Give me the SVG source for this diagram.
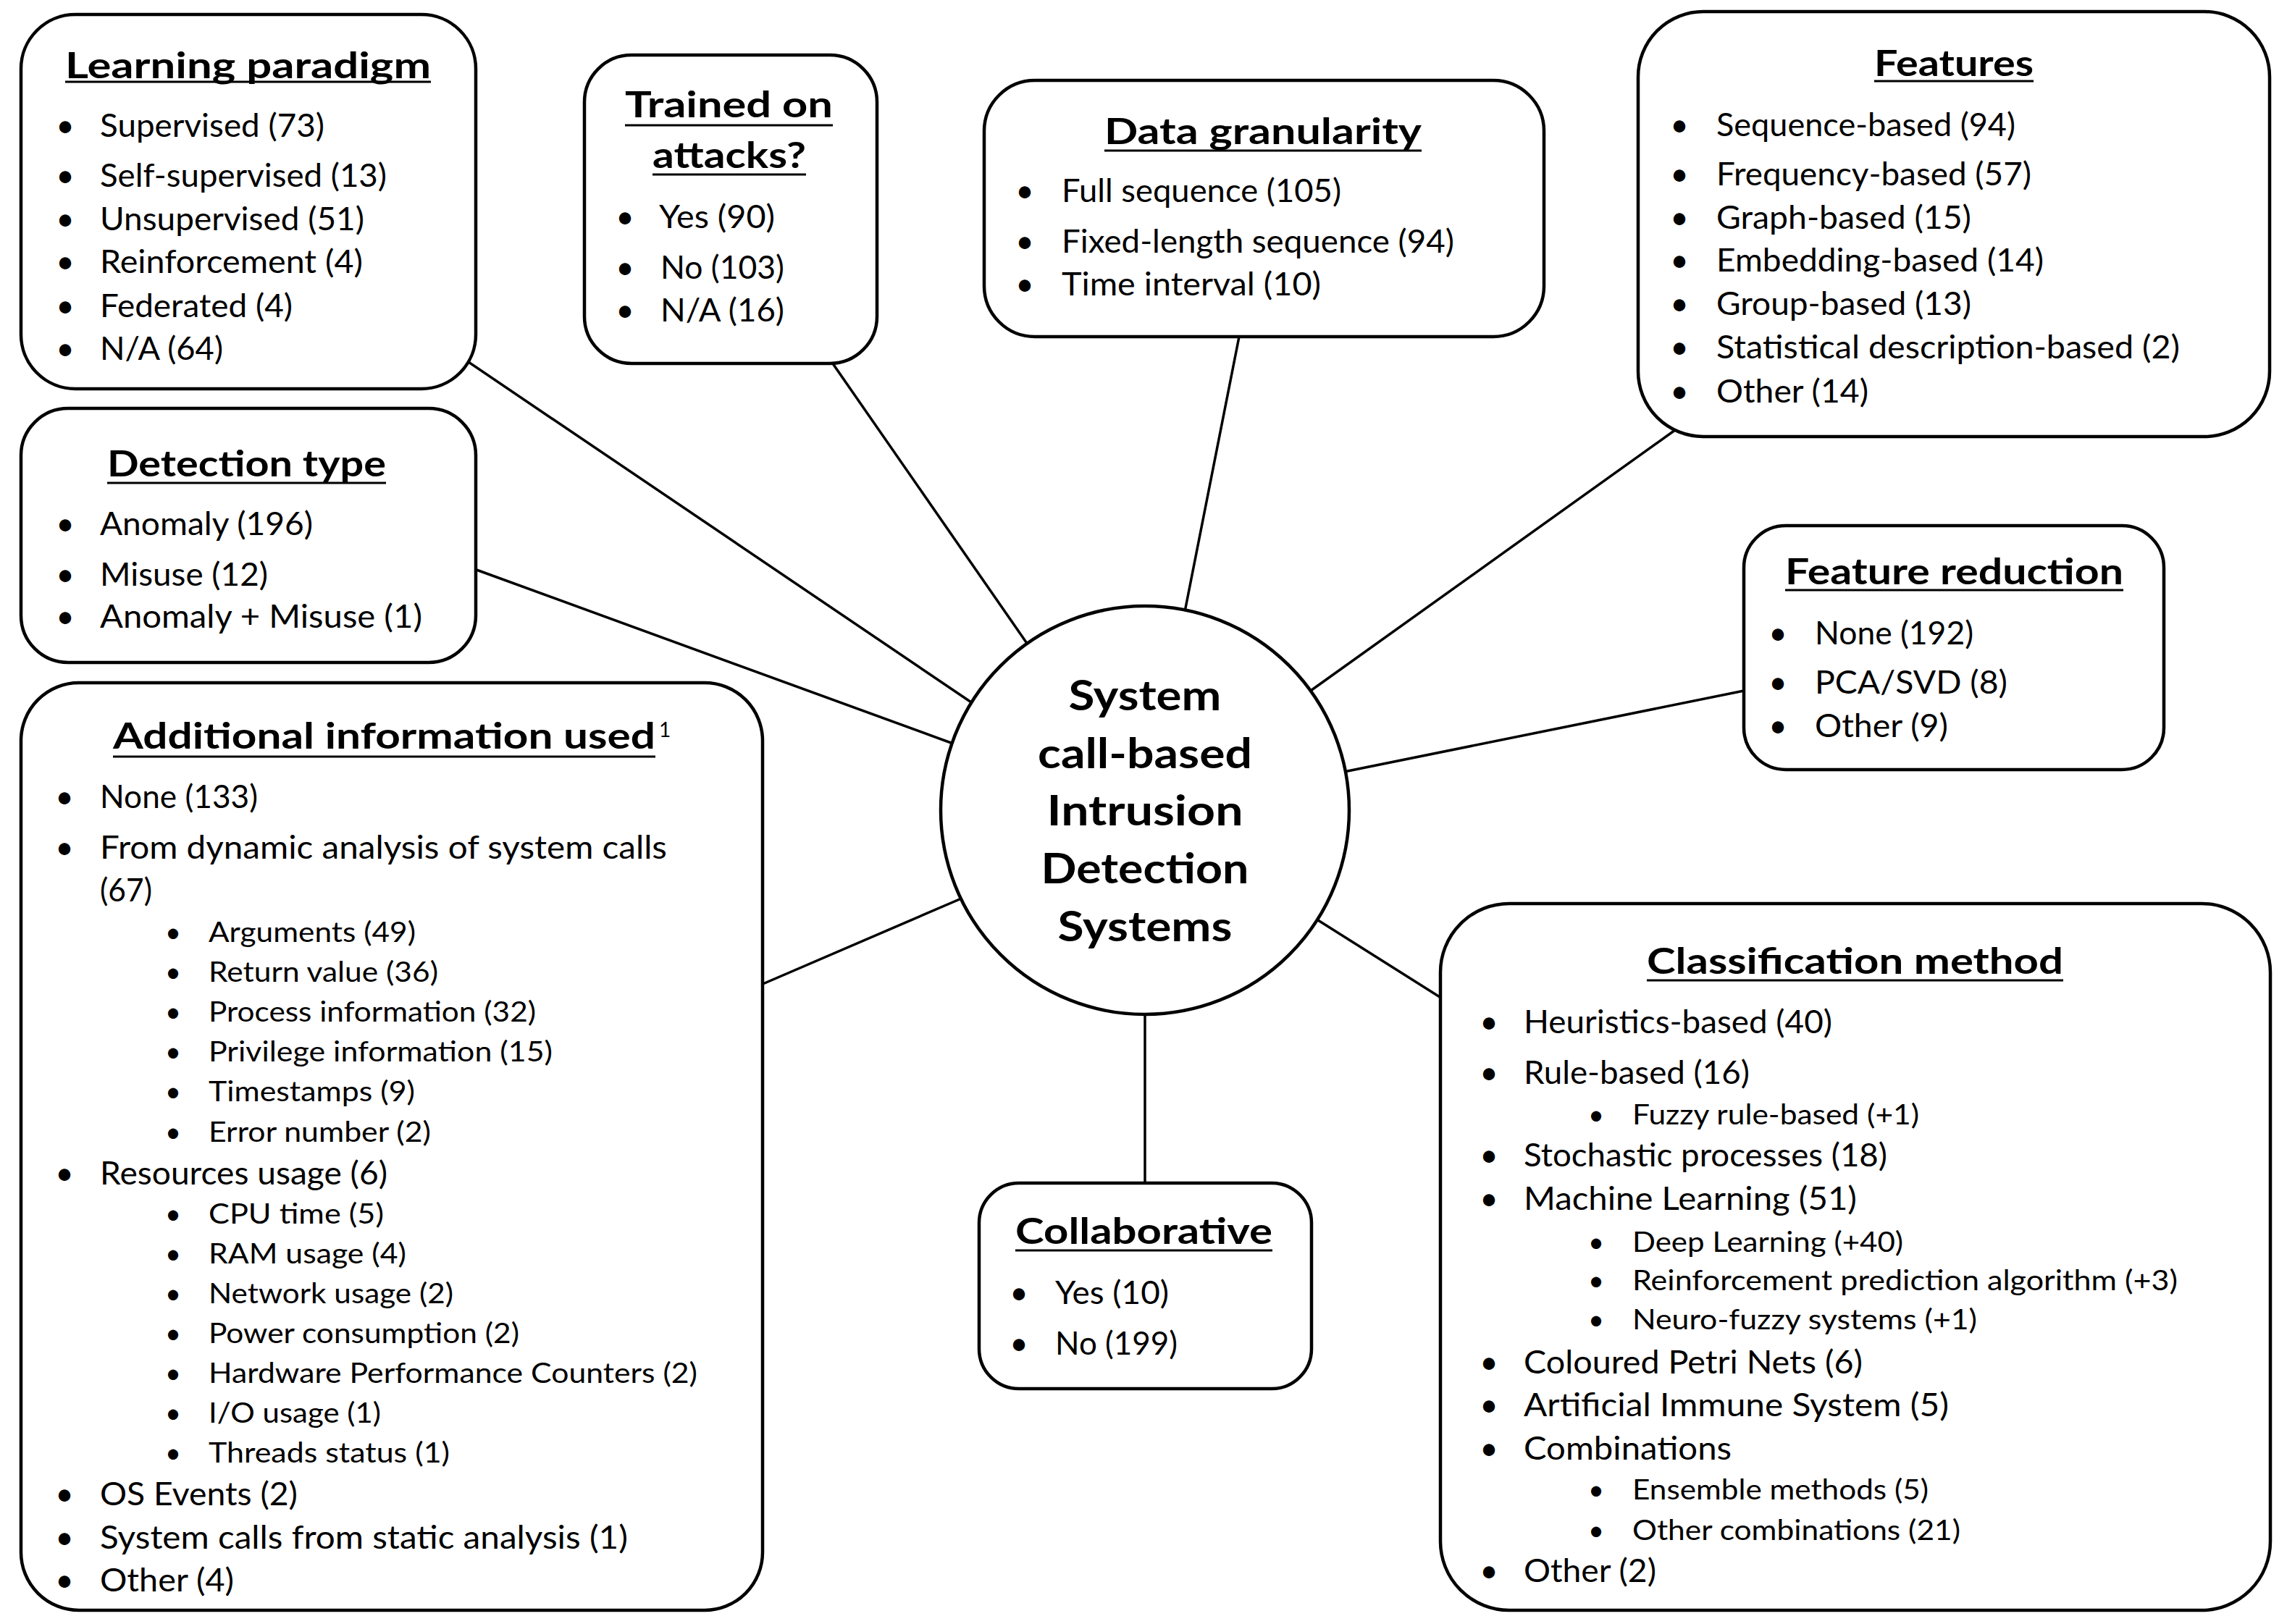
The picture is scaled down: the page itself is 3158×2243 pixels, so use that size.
<svg xmlns="http://www.w3.org/2000/svg" width="3158" height="2243" viewBox="0 0 3158 2243">
<style>
text{font-family:Lato,"Open Sans","Liberation Sans",sans-serif;fill:#000}
.box{fill:#fff;stroke:#000;stroke-width:4.5}
.conn line{stroke:#000;stroke-width:3.5}
.h{font-weight:bold;font-size:50px}
.c{font-weight:bold;font-size:58px;text-anchor:middle}
.b{font-size:44px}
.s{font-size:38px}
.bu{font-size:44px;text-anchor:middle}
.bs{font-size:38px;text-anchor:middle}
.ul{stroke:#000;stroke-width:3}
</style>
<rect width="3158" height="2243" fill="#fff"/>
<g id="connectors" class="conn">
<line x1="641" y1="496" x2="1353" y2="978"/>
<line x1="1145" y1="495" x2="1426" y2="900"/>
<line x1="1713" y1="455" x2="1634" y2="855"/>
<line x1="2313" y1="594" x2="1800" y2="961"/>
<line x1="647" y1="783" x2="1327" y2="1031"/>
<line x1="2418" y1="952" x2="1846" y2="1068"/>
<line x1="1044" y1="1363" x2="1339" y2="1236"/>
<line x1="1996" y1="1382" x2="1809" y2="1264"/>
<line x1="1581" y1="1395" x2="1581" y2="1640"/>
</g>
<g id="center">
<circle class="box" cx="1581" cy="1119" r="282"/>
<text class="c" x="1581" y="981" textLength="211" lengthAdjust="spacingAndGlyphs">System</text>
<text class="c" x="1581" y="1061" textLength="296" lengthAdjust="spacingAndGlyphs">call-based</text>
<text class="c" x="1581" y="1140" textLength="271" lengthAdjust="spacingAndGlyphs">Intrusion</text>
<text class="c" x="1581" y="1220" textLength="287" lengthAdjust="spacingAndGlyphs">Detection</text>
<text class="c" x="1581" y="1300" textLength="241" lengthAdjust="spacingAndGlyphs">Systems</text>
</g>
<g id="learning-paradigm">
<rect class="box" x="29" y="20" width="628" height="517" rx="75"/>
<text class="h" x="90" y="108" textLength="505" lengthAdjust="spacingAndGlyphs">Learning paradigm</text>
<line class="ul" x1="90" y1="113" x2="595" y2="113"/>
<text class="bu" x="90" y="189">•</text><text class="b" x="138" y="189" textLength="310" lengthAdjust="spacingAndGlyphs">Supervised (73)</text>
<text class="bu" x="90" y="258">•</text><text class="b" x="138" y="258" textLength="396" lengthAdjust="spacingAndGlyphs">Self-supervised (13)</text>
<text class="bu" x="90" y="318">•</text><text class="b" x="138" y="318" textLength="365" lengthAdjust="spacingAndGlyphs">Unsupervised (51)</text>
<text class="bu" x="90" y="377">•</text><text class="b" x="138" y="377" textLength="363" lengthAdjust="spacingAndGlyphs">Reinforcement (4)</text>
<text class="bu" x="90" y="438">•</text><text class="b" x="138" y="438" textLength="266" lengthAdjust="spacingAndGlyphs">Federated (4)</text>
<text class="bu" x="90" y="497">•</text><text class="b" x="138" y="497" textLength="170" lengthAdjust="spacingAndGlyphs">N/A (64)</text>
</g>
<g id="trained-on-attacks">
<rect class="box" x="807" y="76" width="404" height="426" rx="65"/>
<text class="h" x="863" y="162" textLength="287" lengthAdjust="spacingAndGlyphs">Trained on</text>
<line class="ul" x1="863" y1="173" x2="1150" y2="173"/>
<text class="h" x="901" y="232" textLength="212" lengthAdjust="spacingAndGlyphs">attacks?</text>
<line class="ul" x1="901" y1="241" x2="1113" y2="241"/>
<text class="bu" x="863" y="315">•</text><text class="b" x="910" y="315" textLength="160" lengthAdjust="spacingAndGlyphs">Yes (90)</text>
<text class="bu" x="863" y="385">•</text><text class="b" x="912" y="385" textLength="171" lengthAdjust="spacingAndGlyphs">No (103)</text>
<text class="bu" x="863" y="444">•</text><text class="b" x="912" y="444" textLength="171" lengthAdjust="spacingAndGlyphs">N/A (16)</text>
</g>
<g id="data-granularity">
<rect class="box" x="1359" y="111" width="773" height="354" rx="70"/>
<text class="h" x="1525" y="199" textLength="438" lengthAdjust="spacingAndGlyphs">Data granularity</text>
<line class="ul" x1="1525" y1="208" x2="1963" y2="208"/>
<text class="bu" x="1415" y="279">•</text><text class="b" x="1466" y="279" textLength="386" lengthAdjust="spacingAndGlyphs">Full sequence (105)</text>
<text class="bu" x="1415" y="349">•</text><text class="b" x="1466" y="349" textLength="542" lengthAdjust="spacingAndGlyphs">Fixed-length sequence (94)</text>
<text class="bu" x="1415" y="408">•</text><text class="b" x="1466" y="408" textLength="358" lengthAdjust="spacingAndGlyphs">Time interval (10)</text>
</g>
<g id="features">
<rect class="box" x="2262" y="16" width="872" height="587" rx="90"/>
<text class="h" x="2588" y="105" textLength="220" lengthAdjust="spacingAndGlyphs">Features</text>
<line class="ul" x1="2588" y1="112" x2="2808" y2="112"/>
<text class="bu" x="2319" y="188">•</text><text class="b" x="2370" y="188" textLength="413" lengthAdjust="spacingAndGlyphs">Sequence-based (94)</text>
<text class="bu" x="2319" y="256">•</text><text class="b" x="2370" y="256" textLength="435" lengthAdjust="spacingAndGlyphs">Frequency-based (57)</text>
<text class="bu" x="2319" y="316">•</text><text class="b" x="2370" y="316" textLength="352" lengthAdjust="spacingAndGlyphs">Graph-based (15)</text>
<text class="bu" x="2319" y="375">•</text><text class="b" x="2370" y="375" textLength="452" lengthAdjust="spacingAndGlyphs">Embedding-based (14)</text>
<text class="bu" x="2319" y="435">•</text><text class="b" x="2370" y="435" textLength="352" lengthAdjust="spacingAndGlyphs">Group-based (13)</text>
<text class="bu" x="2319" y="495">•</text><text class="b" x="2370" y="495" textLength="640" lengthAdjust="spacingAndGlyphs">Statistical description-based (2)</text>
<text class="bu" x="2319" y="556">•</text><text class="b" x="2370" y="556" textLength="210" lengthAdjust="spacingAndGlyphs">Other (14)</text>
</g>
<g id="detection-type">
<rect class="box" x="29" y="564" width="628" height="351" rx="65"/>
<text class="h" x="148" y="658" textLength="385" lengthAdjust="spacingAndGlyphs">Detection type</text>
<line class="ul" x1="148" y1="667" x2="533" y2="667"/>
<text class="bu" x="90" y="739">•</text><text class="b" x="138" y="739" textLength="294" lengthAdjust="spacingAndGlyphs">Anomaly (196)</text>
<text class="bu" x="90" y="809">•</text><text class="b" x="138" y="809" textLength="232" lengthAdjust="spacingAndGlyphs">Misuse (12)</text>
<text class="bu" x="90" y="867">•</text><text class="b" x="138" y="867" textLength="445" lengthAdjust="spacingAndGlyphs">Anomaly + Misuse (1)</text>
</g>
<g id="feature-reduction">
<rect class="box" x="2408" y="726" width="580" height="337" rx="58"/>
<text class="h" x="2465" y="807" textLength="467" lengthAdjust="spacingAndGlyphs">Feature reduction</text>
<line class="ul" x1="2465" y1="815" x2="2932" y2="815"/>
<text class="bu" x="2455" y="890">•</text><text class="b" x="2506" y="890" textLength="219" lengthAdjust="spacingAndGlyphs">None (192)</text>
<text class="bu" x="2455" y="958">•</text><text class="b" x="2506" y="958" textLength="266" lengthAdjust="spacingAndGlyphs">PCA/SVD (8)</text>
<text class="bu" x="2455" y="1018">•</text><text class="b" x="2506" y="1018" textLength="184" lengthAdjust="spacingAndGlyphs">Other (9)</text>
</g>
<g id="additional-information">
<rect class="box" x="29" y="943" width="1024" height="1281" rx="80"/>
<text class="h" x="156" y="1034" textLength="749" lengthAdjust="spacingAndGlyphs">Additional information used</text>
<line class="ul" x1="156" y1="1045" x2="905" y2="1045"/>
<text x="910" y="1018" style="font-size:28px">1</text>
<text class="bu" x="89" y="1116">•</text><text class="b" x="138" y="1116" textLength="218" lengthAdjust="spacingAndGlyphs">None (133)</text>
<text class="bu" x="89" y="1186">•</text><text class="b" x="138" y="1186" textLength="783" lengthAdjust="spacingAndGlyphs">From dynamic analysis of system calls</text>
<text class="b" x="138" y="1245" textLength="72" lengthAdjust="spacingAndGlyphs">(67)</text>
<text class="bs" x="239" y="1301">•</text><text class="s" x="288" y="1301" textLength="286" lengthAdjust="spacingAndGlyphs">Arguments (49)</text>
<text class="bs" x="239" y="1356">•</text><text class="s" x="288" y="1356" textLength="317" lengthAdjust="spacingAndGlyphs">Return value (36)</text>
<text class="bs" x="239" y="1411">•</text><text class="s" x="288" y="1411" textLength="452" lengthAdjust="spacingAndGlyphs">Process information (32)</text>
<text class="bs" x="239" y="1466">•</text><text class="s" x="288" y="1466" textLength="475" lengthAdjust="spacingAndGlyphs">Privilege information (15)</text>
<text class="bs" x="239" y="1521">•</text><text class="s" x="288" y="1521" textLength="285" lengthAdjust="spacingAndGlyphs">Timestamps (9)</text>
<text class="bs" x="239" y="1577">•</text><text class="s" x="288" y="1577" textLength="307" lengthAdjust="spacingAndGlyphs">Error number (2)</text>
<text class="bu" x="89" y="1636">•</text><text class="b" x="138" y="1636" textLength="397" lengthAdjust="spacingAndGlyphs">Resources usage (6)</text>
<text class="bs" x="239" y="1690">•</text><text class="s" x="288" y="1690" textLength="242" lengthAdjust="spacingAndGlyphs">CPU time (5)</text>
<text class="bs" x="239" y="1745">•</text><text class="s" x="288" y="1745" textLength="273" lengthAdjust="spacingAndGlyphs">RAM usage (4)</text>
<text class="bs" x="239" y="1800">•</text><text class="s" x="288" y="1800" textLength="338" lengthAdjust="spacingAndGlyphs">Network usage (2)</text>
<text class="bs" x="239" y="1855">•</text><text class="s" x="288" y="1855" textLength="429" lengthAdjust="spacingAndGlyphs">Power consumption (2)</text>
<text class="bs" x="239" y="1910">•</text><text class="s" x="288" y="1910" textLength="675" lengthAdjust="spacingAndGlyphs">Hardware Performance Counters (2)</text>
<text class="bs" x="239" y="1965">•</text><text class="s" x="288" y="1965" textLength="238" lengthAdjust="spacingAndGlyphs">I/O usage (1)</text>
<text class="bs" x="239" y="2020">•</text><text class="s" x="288" y="2020" textLength="333" lengthAdjust="spacingAndGlyphs">Threads status (1)</text>
<text class="bu" x="89" y="2079">•</text><text class="b" x="138" y="2079" textLength="273" lengthAdjust="spacingAndGlyphs">OS Events (2)</text>
<text class="bu" x="89" y="2139">•</text><text class="b" x="138" y="2139" textLength="729" lengthAdjust="spacingAndGlyphs">System calls from static analysis (1)</text>
<text class="bu" x="89" y="2198">•</text><text class="b" x="138" y="2198" textLength="185" lengthAdjust="spacingAndGlyphs">Other (4)</text>
</g>
<g id="classification-method">
<rect class="box" x="1989" y="1248" width="1146" height="976" rx="95"/>
<text class="h" x="2274" y="1345" textLength="575" lengthAdjust="spacingAndGlyphs">Classification method</text>
<line class="ul" x1="2274" y1="1354" x2="2849" y2="1354"/>
<text class="bu" x="2056" y="1427">•</text><text class="b" x="2104" y="1427" textLength="426" lengthAdjust="spacingAndGlyphs">Heuristics-based (40)</text>
<text class="bu" x="2056" y="1497">•</text><text class="b" x="2104" y="1497" textLength="312" lengthAdjust="spacingAndGlyphs">Rule-based (16)</text>
<text class="bs" x="2204" y="1553">•</text><text class="s" x="2254" y="1553" textLength="396" lengthAdjust="spacingAndGlyphs">Fuzzy rule-based (+1)</text>
<text class="bu" x="2056" y="1611">•</text><text class="b" x="2104" y="1611" textLength="502" lengthAdjust="spacingAndGlyphs">Stochastic processes (18)</text>
<text class="bu" x="2056" y="1671">•</text><text class="b" x="2104" y="1671" textLength="460" lengthAdjust="spacingAndGlyphs">Machine Learning (51)</text>
<text class="bs" x="2204" y="1729">•</text><text class="s" x="2254" y="1729" textLength="374" lengthAdjust="spacingAndGlyphs">Deep Learning (+40)</text>
<text class="bs" x="2204" y="1782">•</text><text class="s" x="2254" y="1782" textLength="753" lengthAdjust="spacingAndGlyphs">Reinforcement prediction algorithm (+3)</text>
<text class="bs" x="2204" y="1836">•</text><text class="s" x="2254" y="1836" textLength="476" lengthAdjust="spacingAndGlyphs">Neuro-fuzzy systems (+1)</text>
<text class="bu" x="2056" y="1897">•</text><text class="b" x="2104" y="1897" textLength="468" lengthAdjust="spacingAndGlyphs">Coloured Petri Nets (6)</text>
<text class="bu" x="2056" y="1956">•</text><text class="b" x="2104" y="1956" textLength="587" lengthAdjust="spacingAndGlyphs">Artificial Immune System (5)</text>
<text class="bu" x="2056" y="2016">•</text><text class="b" x="2104" y="2016" textLength="287" lengthAdjust="spacingAndGlyphs">Combinations</text>
<text class="bs" x="2204" y="2071">•</text><text class="s" x="2254" y="2071" textLength="409" lengthAdjust="spacingAndGlyphs">Ensemble methods (5)</text>
<text class="bs" x="2204" y="2127">•</text><text class="s" x="2254" y="2127" textLength="453" lengthAdjust="spacingAndGlyphs">Other combinations (21)</text>
<text class="bu" x="2056" y="2185">•</text><text class="b" x="2104" y="2185" textLength="183" lengthAdjust="spacingAndGlyphs">Other (2)</text>
</g>
<g id="collaborative">
<rect class="box" x="1352" y="1634" width="459" height="284" rx="55"/>
<text class="h" x="1402" y="1718" textLength="355" lengthAdjust="spacingAndGlyphs">Collaborative</text>
<line class="ul" x1="1402" y1="1727" x2="1757" y2="1727"/>
<text class="bu" x="1407" y="1801">•</text><text class="b" x="1457" y="1801" textLength="157" lengthAdjust="spacingAndGlyphs">Yes (10)</text>
<text class="bu" x="1407" y="1871">•</text><text class="b" x="1457" y="1871" textLength="169" lengthAdjust="spacingAndGlyphs">No (199)</text>
</g>
</svg>
